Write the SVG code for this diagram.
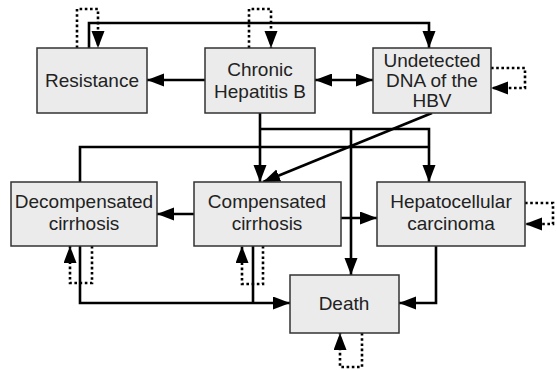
<svg xmlns="http://www.w3.org/2000/svg" width="557" height="370" viewBox="0 0 557 370">
<style>
.box{fill:#ebebeb;stroke:#333;stroke-width:1.5}
.t{font-family:"Liberation Sans",Arial,sans-serif;font-size:19px;fill:#222;text-anchor:middle}
.c{fill:none;stroke:#000;stroke-width:2.6}
.d{fill:none;stroke:#000;stroke-width:2.6;stroke-dasharray:2.6,2.6}
.a{marker-end:url(#ah)}
</style>
<defs>
<marker id="ah" markerUnits="userSpaceOnUse" markerWidth="18" markerHeight="14" refX="17" refY="6.5" orient="auto">
<path d="M0,0 L17,6.5 L0,13 z" fill="#000"/>
</marker>
<marker id="as" markerUnits="userSpaceOnUse" markerWidth="18" markerHeight="14" refX="0" refY="6.5" orient="auto">
<path d="M17,0 L0,6.5 L17,13 z" fill="#000"/>
</marker>
</defs>
<g id="connectors">
<path class="c a" d="M89,48 V23 H429 V48"/>
<path class="d a" d="M77,48 V9 H98 V48"/>
<path class="d a" d="M249,48 V9 H271 V48"/>
<path class="c a" d="M205,80 H147"/>
<path class="c a" d="M315,80 H373" marker-start="url(#as)"/>
<path class="d a" d="M491,68 H525 V88 H491"/>
<path class="c a" d="M260,113 V182"/>
<path class="c a" d="M260,129 H429 V182"/>
<path class="c a" d="M351,129 V275"/>
<path class="c" d="M80,182 V147 H429"/>
<path class="c a" d="M432,113 L263,182"/>
<path class="c a" d="M194,214 H157"/>
<path class="c a" d="M341,218 H377"/>
<path class="c a" d="M436,246 V303 H399"/>
<path class="c a" d="M80,246 V303 H290"/>
<path class="c" d="M253,246 V303"/>
<path class="d a" d="M92,246 V283 H70 V246"/>
<path class="d a" d="M263,246 V284 H242 V246"/>
<path class="d a" d="M362,333 V367 H340 V333"/>
<path class="d a" d="M525,203 H553 V224 H525"/>
</g>
<g id="resistance"><rect class="box" x="37" y="48" width="110" height="65"/><text class="t" x="92" y="87">Resistance</text></g>
<g id="chronic"><rect class="box" x="205" y="48" width="110" height="65"/><text class="t" x="260" y="76">Chronic</text><text class="t" x="260" y="98">Hepatitis B</text></g>
<g id="undetected"><rect class="box" x="373" y="48" width="118" height="65"/><text class="t" x="432" y="67">Undetected</text><text class="t" x="432" y="87">DNA of the</text><text class="t" x="432" y="107">HBV</text></g>
<g id="decompensated"><rect class="box" x="11" y="182" width="146" height="64"/><text class="t" x="84" y="208">Decompensated</text><text class="t" x="84" y="230">cirrhosis</text></g>
<g id="compensated"><rect class="box" x="194" y="182" width="147" height="64"/><text class="t" x="267" y="208">Compensated</text><text class="t" x="267" y="230">cirrhosis</text></g>
<g id="hepatocellular"><rect class="box" x="377" y="182" width="148" height="64"/><text class="t" x="451" y="208">Hepatocellular</text><text class="t" x="451" y="230">carcinoma</text></g>
<g id="death"><rect class="box" x="290" y="275" width="109" height="58"/><text class="t" x="344" y="310">Death</text></g>
</svg>
